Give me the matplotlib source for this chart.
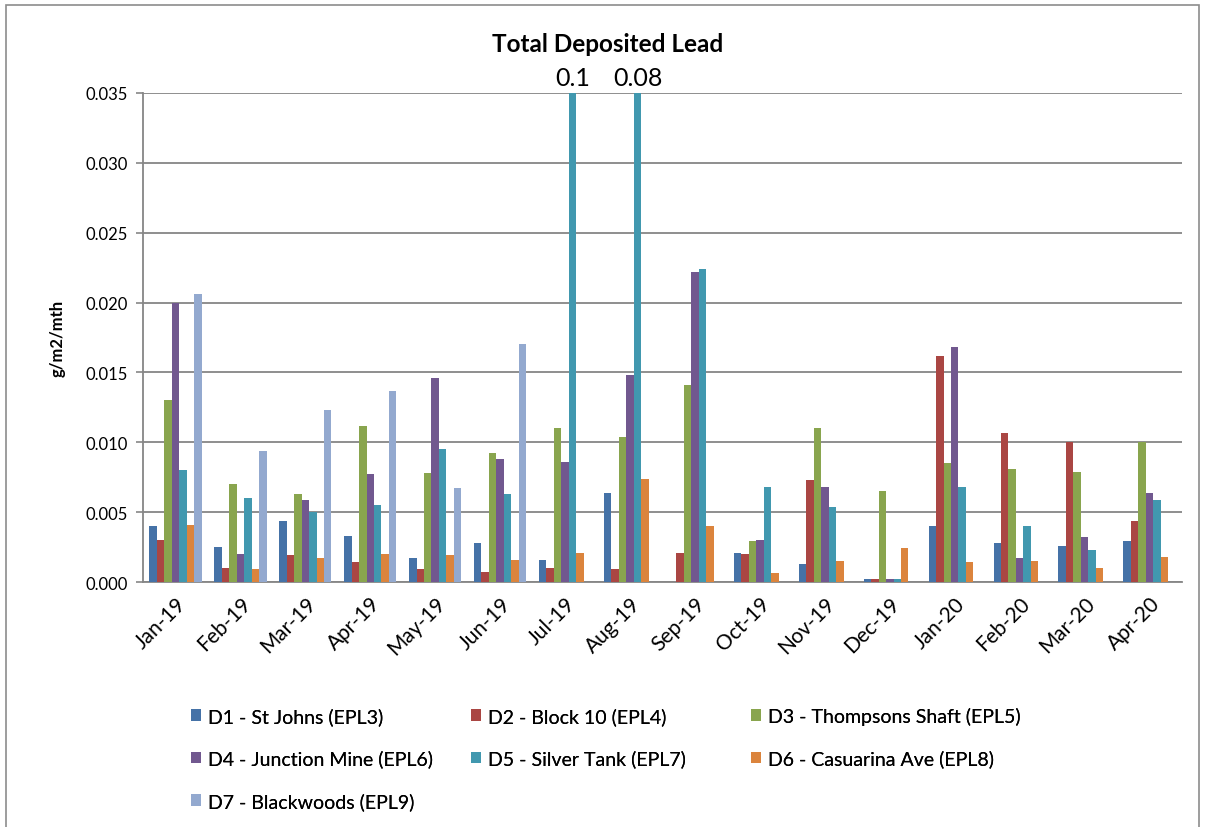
import numpy as np
import matplotlib
matplotlib.use("Agg")
import matplotlib.pyplot as plt
from matplotlib.patches import Rectangle
from matplotlib.transforms import blended_transform_factory

plt.rcParams['font.family'] = ['Lato', 'DejaVu Sans']

months = ['Jan-19', 'Feb-19', 'Mar-19', 'Apr-19', 'May-19', 'Jun-19', 'Jul-19', 'Aug-19',
          'Sep-19', 'Oct-19', 'Nov-19', 'Dec-19', 'Jan-20', 'Feb-20', 'Mar-20', 'Apr-20']

names = ['D1 - St Johns (EPL3)', 'D2 - Block 10 (EPL4)', 'D3 - Thompsons Shaft (EPL5)',
         'D4 - Junction Mine (EPL6)', 'D5 - Silver Tank (EPL7)', 'D6 - Casuarina Ave (EPL8)',
         'D7 - Blackwoods (EPL9)']

nan = np.nan
d1 = [0.0040, 0.0025, 0.0044, 0.0033, 0.0017, 0.0028, 0.00155, 0.0064,
      nan, 0.0021, 0.0013, 0.0002, 0.0040, 0.0028, 0.0026, 0.0029]
d2 = [0.0030, 0.0010, 0.0019, 0.0014, 0.0009, 0.0007, 0.0010, 0.0009,
      0.0021, 0.0020, 0.0073, 0.0002, 0.0162, 0.0107, 0.0100, 0.0044]
d3 = [0.0130, 0.0070, 0.0063, 0.0112, 0.0078, 0.0092, 0.0110, 0.0104,
      0.0141, 0.0029, 0.0110, 0.0065, 0.0085, 0.0081, 0.0079, 0.0100]
d4 = [0.0200, 0.0020, 0.0059, 0.0077, 0.0146, 0.0088, 0.0086, 0.0148,
      0.0222, 0.0030, 0.0068, 0.0002, 0.0168, 0.0017, 0.0032, 0.0064]
d5 = [0.0080, 0.0060, 0.0050, 0.0055, 0.0095, 0.0063, 0.1, 0.08,
      0.0224, 0.0068, 0.0054, 0.0002, 0.0068, 0.0040, 0.0023, 0.0059]
d6 = [0.0041, 0.0009, 0.0017, 0.0020, 0.0019, 0.0016, 0.0021, 0.0074,
      0.0040, 0.00066, 0.0015, 0.0024, 0.0014, 0.0015, 0.0010, 0.0018]
d7 = [0.0206, 0.0094, 0.0123, 0.0137, 0.0067, 0.0170, nan, nan,
      nan, nan, nan, nan, nan, nan, nan, nan]

series = [d1, d2, d3, d4, d5, d6, d7]
colors = ['#4572A7', '#AA4643', '#89A54E', '#71588F', '#4198AF', '#DB843D', '#93A9CF']

ymax = 0.035
grid_c = '#868686'

fig = plt.figure(figsize=(12.05, 8.28), dpi=100)
ax = fig.add_axes([143 / 1205, 1 - 583 / 828, (1182 - 143) / 1205, (583 - 94) / 828])

x = np.arange(len(months))
w = 0.115
for j, (vals, c, nm) in enumerate(zip(series, colors, names)):
    ax.bar(x + (j - 3) * w, vals, width=w, color=c, label=nm, zorder=3)

# values that run off the top of the scale get printed above the plot
tr = blended_transform_factory(ax.transData, ax.transAxes)
for j, vals in enumerate(series):
    for i, v in enumerate(vals):
        if not np.isnan(v) and v > ymax:
            ax.text(x[i] + (j - 3) * w, 1.008, f'{v:g}', transform=tr, ha='center',
                    va='bottom', fontsize=18, clip_on=False)

ax.set_ylim(0, ymax)
ax.set_xlim(-0.5, len(months) - 0.5)
ax.set_yticks(np.arange(0, ymax + 0.0001, 0.005))
ax.set_yticklabels([f'{t:.3f}' for t in np.arange(0, ymax + 0.0001, 0.005)], fontsize=12)
ax.set_xticks(x)
ax.set_xticklabels(months, rotation=45, ha='right', rotation_mode='anchor', fontsize=15)
ax.tick_params(axis='x', length=0, pad=8)
ax.tick_params(axis='y', length=5, color=grid_c, width=1.2, pad=6)
ax.yaxis.grid(True, color=grid_c, linewidth=1.3, zorder=0)
ax.set_axisbelow(True)
for s in ['top', 'right']:
    ax.spines[s].set_visible(False)
for s in ['left', 'bottom']:
    ax.spines[s].set_color(grid_c)
    ax.spines[s].set_linewidth(1.3)
ax.set_ylabel('g/m2/mth', fontsize=12, fontweight='bold', labelpad=14)

fig.text(608 / 1205, 1 - 44 / 828, 'Total Deposited Lead', ha='center', va='center',
         fontsize=17.5, fontweight='bold')

# legend laid out row by row in three columns
handles, labels = ax.get_legend_handles_labels()
cols = [[0, 3, 6], [1, 4], [2, 5]]
col_x = [183, 463, 743]
for xs, idx in zip(col_x, cols):
    leg = fig.legend([handles[k] for k in idx], [labels[k] for k in idx],
                     loc='upper left', bbox_to_anchor=(xs / 1205, 1 - 700 / 828),
                     frameon=False, fontsize=14, handlelength=0.55, handleheight=0.55,
                     handletextpad=0.35, labelspacing=1.27, borderaxespad=0)
    fig.add_artist(leg)

fig.add_artist(Rectangle((6 / 1205, -0.01), 1193 / 1205, 1 - 6 / 828 + 0.01,
                         transform=fig.transFigure, fill=False, edgecolor='#8c8c8c',
                         linewidth=1.2))

fig.savefig('out.png', dpi=100)
